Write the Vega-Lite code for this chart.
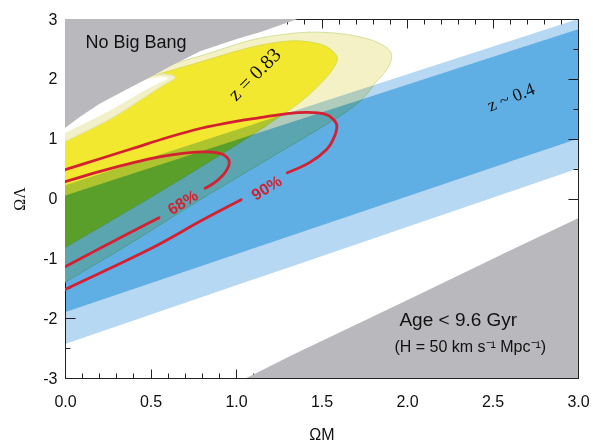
{
  "$schema": "https://vega.github.io/schema/vega-lite/v6.json",
  "autosize": {"type": "none"},
  "width": 513,
  "height": 359,
  "padding": {"left": 65, "top": 19, "right": 15, "bottom": 66},
  "background": "white",
  "config": {"view": {"stroke": "#222", "strokeWidth": 1}},
  "datasets": {
    "pale": [
      {"i": 1, "x": -0.3, "y": 0.9}, {"i": 2, "x": 0, "y": 1.45}, {"i": 3, "x": 0.3, "y": 1.9}, {"i": 4, "x": 0.5, "y": 2.14},
      {"i": 5, "x": 0.79, "y": 2.38}, {"i": 6, "x": 1.08, "y": 2.64}, {"i": 7, "x": 1.3, "y": 2.75}, {"i": 8, "x": 1.47, "y": 2.78},
      {"i": 9, "x": 1.65, "y": 2.74}, {"i": 10, "x": 1.8, "y": 2.64}, {"i": 11, "x": 1.89, "y": 2.5}, {"i": 12, "x": 1.91, "y": 2.35},
      {"i": 13, "x": 1.88, "y": 2.15}, {"i": 14, "x": 1.82, "y": 1.95}, {"i": 15, "x": 1.67, "y": 1.5}, {"i": 16, "x": 1.2, "y": 0.68},
      {"i": 17, "x": 0.79, "y": -0.02}, {"i": 18, "x": 0.4, "y": -0.72}, {"i": 19, "x": 0, "y": -1.4}, {"i": 20, "x": -0.3, "y": -1.92},
      {"i": 21, "x": -0.3, "y": 0.9}
    ],
    "bright": [
      {"i": 1, "x": -0.3, "y": 0.9}, {"i": 2, "x": 0, "y": 1.4}, {"i": 3, "x": 0.3, "y": 1.78}, {"i": 4, "x": 0.5, "y": 2.03},
      {"i": 5, "x": 0.79, "y": 2.28}, {"i": 6, "x": 1.0, "y": 2.46}, {"i": 7, "x": 1.14, "y": 2.56}, {"i": 8, "x": 1.3, "y": 2.63},
      {"i": 9, "x": 1.42, "y": 2.62}, {"i": 10, "x": 1.52, "y": 2.55}, {"i": 11, "x": 1.58, "y": 2.42}, {"i": 12, "x": 1.59, "y": 2.3},
      {"i": 13, "x": 1.55, "y": 2.1}, {"i": 14, "x": 1.47, "y": 1.85}, {"i": 15, "x": 1.37, "y": 1.6}, {"i": 16, "x": 1.25, "y": 1.36},
      {"i": 17, "x": 1.06, "y": 1.0}, {"i": 18, "x": 0.56, "y": 0.12}, {"i": 19, "x": 0, "y": -0.82}, {"i": 20, "x": -0.3, "y": -1.3},
      {"i": 21, "x": -0.3, "y": 0.9}
    ],
    "tongue": [
      {"i": 1, "x": -0.1, "y": 0.8}, {"i": 2, "x": 0, "y": 0.95}, {"i": 3, "x": 0.26, "y": 1.32}, {"i": 4, "x": 0.46, "y": 1.68},
      {"i": 5, "x": 0.58, "y": 1.9}, {"i": 6, "x": 0.64, "y": 2.0}, {"i": 7, "x": 0.63, "y": 2.06}, {"i": 8, "x": 0.56, "y": 2.08},
      {"i": 9, "x": 0.45, "y": 2.0}, {"i": 10, "x": 0.3, "y": 1.82}, {"i": 11, "x": 0, "y": 1.5}, {"i": 12, "x": -0.1, "y": 1.3}
    ],
    "pocket": [
      {"i": 1, "x": -0.1, "y": 0.95}, {"i": 2, "x": 0, "y": 1.1}, {"i": 3, "x": 0.26, "y": 1.47}, {"i": 4, "x": 0.46, "y": 1.8},
      {"i": 5, "x": 0.57, "y": 1.96}, {"i": 6, "x": 0.6, "y": 2.01}, {"i": 7, "x": 0.56, "y": 2.03}, {"i": 8, "x": 0.45, "y": 1.96},
      {"i": 9, "x": 0.3, "y": 1.78}, {"i": 10, "x": 0, "y": 1.45}, {"i": 11, "x": -0.1, "y": 1.3}
    ],
    "bands": [
      {"band": "lightU", "x": 0, "lo": 0.05, "hi": 0.22}, {"band": "lightU", "x": 3, "lo": 2.83, "hi": 3.0},
      {"band": "dark", "x": 0, "lo": -1.9, "hi": 0.05}, {"band": "dark", "x": 3, "lo": 1.0, "hi": 2.83},
      {"band": "lightL", "x": 0, "lo": -2.43, "hi": -1.9}, {"band": "lightL", "x": 3, "lo": 0.5, "hi": 1.0}
    ],
    "nbb": [
      {"x": 0, "y": 1.18}, {"x": 0.09, "y": 1.37}, {"x": 0.2, "y": 1.58}, {"x": 0.36, "y": 1.82}, {"x": 0.5, "y": 2.03},
      {"x": 0.61, "y": 2.2}, {"x": 0.79, "y": 2.46}, {"x": 1.0, "y": 2.66}, {"x": 1.14, "y": 2.78}, {"x": 1.36, "y": 3.0}
    ],
    "age": [
      {"x": 1.06, "y": -3}, {"x": 1.32, "y": -2.63}, {"x": 2.0, "y": -1.7}, {"x": 2.5, "y": -1.01}, {"x": 3.0, "y": -0.33}
    ],
    "red": [
      {"seg": "90a", "i": 1, "x": 0, "y": 0.48}, {"seg": "90a", "i": 2, "x": 0.2, "y": 0.66}, {"seg": "90a", "i": 3, "x": 0.4, "y": 0.84},
      {"seg": "90a", "i": 4, "x": 0.6, "y": 1.02}, {"seg": "90a", "i": 5, "x": 0.79, "y": 1.17}, {"seg": "90a", "i": 6, "x": 1.0, "y": 1.29},
      {"seg": "90a", "i": 7, "x": 1.14, "y": 1.35}, {"seg": "90a", "i": 8, "x": 1.3, "y": 1.42}, {"seg": "90a", "i": 9, "x": 1.42, "y": 1.44},
      {"seg": "90a", "i": 10, "x": 1.52, "y": 1.41}, {"seg": "90a", "i": 11, "x": 1.57, "y": 1.32}, {"seg": "90a", "i": 12, "x": 1.59, "y": 1.2},
      {"seg": "90a", "i": 13, "x": 1.57, "y": 1.0}, {"seg": "90a", "i": 14, "x": 1.53, "y": 0.82}, {"seg": "90a", "i": 15, "x": 1.43, "y": 0.6},
      {"seg": "90a", "i": 16, "x": 1.3, "y": 0.43},
      {"seg": "90b", "i": 1, "x": 1.03, "y": -0.02}, {"seg": "90b", "i": 2, "x": 0.79, "y": -0.38}, {"seg": "90b", "i": 3, "x": 0.5, "y": -0.84},
      {"seg": "90b", "i": 4, "x": 0, "y": -1.52},
      {"seg": "68a", "i": 1, "x": 0, "y": 0.28}, {"seg": "68a", "i": 2, "x": 0.2, "y": 0.45}, {"seg": "68a", "i": 3, "x": 0.4, "y": 0.6},
      {"seg": "68a", "i": 4, "x": 0.56, "y": 0.7}, {"seg": "68a", "i": 5, "x": 0.7, "y": 0.76}, {"seg": "68a", "i": 6, "x": 0.83, "y": 0.78},
      {"seg": "68a", "i": 7, "x": 0.92, "y": 0.74}, {"seg": "68a", "i": 8, "x": 0.96, "y": 0.62}, {"seg": "68a", "i": 9, "x": 0.94, "y": 0.45},
      {"seg": "68a", "i": 10, "x": 0.89, "y": 0.3}, {"seg": "68a", "i": 11, "x": 0.82, "y": 0.17},
      {"seg": "68b", "i": 1, "x": 0.55, "y": -0.32}, {"seg": "68b", "i": 2, "x": 0.2, "y": -0.84}, {"seg": "68b", "i": 3, "x": 0, "y": -1.14}
    ]
  },
  "encoding": {
    "x": {"field": "x", "type": "quantitative", "scale": {"domain": [0, 3], "nice": false, "zero": false}, "axis": null},
    "y": {"field": "y", "type": "quantitative", "scale": {"domain": [-3, 3], "nice": false, "zero": false}, "axis": null}
  },
  "layer": [
    {
      "data": {"name": "pale"},
      "mark": {"type": "line", "fill": "#f5f1c6", "stroke": "#d3e19a", "strokeWidth": 1, "clip": true, "interpolate": "cardinal"},
      "encoding": {
        "order": {"field": "i", "type": "quantitative"},
        "x": {"field": "x", "type": "quantitative", "scale": {"domain": [0, 3], "nice": false, "zero": false},
          "axis": {"orient": "bottom", "values": [0,0.1,0.2,0.3,0.4,0.5,0.6,0.7,0.8,0.9,1,1.1,1.2,1.3,1.4,1.5,1.6,1.7,1.8,1.9,2,2.1,2.2,2.3,2.4,2.5,2.6,2.7,2.8,2.9,3],
            "tickSize": {"condition": {"test": "abs(datum.value*2-round(datum.value*2))<0.001", "value": -9}, "value": -5},
            "labelExpr": "abs(datum.value*2-round(datum.value*2))<0.001 ? format(datum.value,'.1f') : ''",
            "labelOverlap": false, "labelFlush": false, "labelPadding": 24, "labelFont": "Liberation Sans", "labelFontSize": 16, "labelColor": "#111",
            "tickColor": "#222", "domainColor": "#222", "grid": false,
            "title": "ΩM", "titleFont": "Liberation Sans", "titleFontSize": 16, "titleFontWeight": "normal", "titleColor": "#111", "titlePadding": 13}},
        "y": {"field": "y", "type": "quantitative", "scale": {"domain": [-3, 3], "nice": false, "zero": false},
          "axis": {"orient": "left", "values": [-3,-2.5,-2,-1.5,-1,-0.5,0,0.5,1,1.5,2,2.5,3],
            "tickSize": {"condition": {"test": "abs(datum.value-round(datum.value))<0.001", "value": -10}, "value": -5},
            "labelExpr": "abs(datum.value-round(datum.value))<0.001 ? (datum.value<0 ? '-' + abs(datum.value) : '' + datum.value) : ''",
            "labelOverlap": false, "labelFlush": false, "labelPadding": 18, "labelFont": "Liberation Sans", "labelFontSize": 16, "labelColor": "#111",
            "tickColor": "#222", "domainColor": "#222", "grid": false,
            "title": "ΩΛ", "titleFont": "Liberation Serif", "titleFontSize": 16, "titleFontWeight": "normal", "titleColor": "#111", "titlePadding": 15}}
      }
    },
    {
      "data": {"name": "bright"},
      "mark": {"type": "line", "fill": "#f3e830", "stroke": "#d9dc50", "strokeWidth": 1, "clip": true, "interpolate": "cardinal"},
      "encoding": {"order": {"field": "i", "type": "quantitative"}}
    },
    {
      "data": {"name": "tongue"},
      "mark": {"type": "line", "fill": "#f2f0c8", "stroke": "#dfe2a0", "strokeWidth": 1, "clip": true, "interpolate": "cardinal"},
      "encoding": {"order": {"field": "i", "type": "quantitative"}}
    },
    {
      "data": {"name": "pocket"},
      "mark": {"type": "line", "fill": "#ffffff", "stroke": "#ffffff", "strokeWidth": 0.5, "clip": true, "interpolate": "cardinal"},
      "encoding": {"order": {"field": "i", "type": "quantitative"}}
    },
    {
      "data": {"name": "bands"},
      "mark": {"type": "area", "blend": "multiply"},
      "encoding": {
        "y": {"field": "lo", "type": "quantitative", "stack": null, "axis": null},
        "y2": {"field": "hi"},
        "color": {"field": "band", "type": "nominal", "scale": {"domain": ["lightU", "dark", "lightL"], "range": ["#b6d8f2", "#5fafe4", "#b6d8f2"]}, "legend": null}
      }
    },
    {
      "data": {"name": "nbb"},
      "mark": {"type": "area", "color": "#b9b9bd", "clip": true},
      "encoding": {"y2": {"datum": 3}}
    },
    {
      "data": {"name": "age"},
      "mark": {"type": "area", "color": "#b9b9bd", "clip": true},
      "encoding": {
        "y2": {"datum": -3},
        "x": {"field": "x", "type": "quantitative", "scale": {"domain": [0, 3], "nice": false, "zero": false},
          "axis": {"orient": "top", "values": [0,0.1,0.2,0.3,0.4,0.5,0.6,0.7,0.8,0.9,1,1.1,1.2,1.3,1.4,1.5,1.6,1.7,1.8,1.9,2,2.1,2.2,2.3,2.4,2.5,2.6,2.7,2.8,2.9,3],
            "tickSize": {"condition": {"test": "abs(datum.value*2-round(datum.value*2))<0.001", "value": -9}, "value": -5},
            "labels": false, "tickColor": "#222", "domainColor": "#222", "grid": false, "title": null}},
        "y": {"field": "y", "type": "quantitative", "scale": {"domain": [-3, 3], "nice": false, "zero": false},
          "axis": {"orient": "right", "values": [-3,-2.5,-2,-1.5,-1,-0.5,0,0.5,1,1.5,2,2.5,3],
            "tickSize": {"condition": {"test": "abs(datum.value-round(datum.value))<0.001", "value": -10}, "value": -5},
            "labels": false, "tickColor": "#222", "domainColor": "#222", "grid": false, "title": null}}
      }
    },
    {
      "data": {"name": "red"},
      "mark": {"type": "line", "color": "#d42030", "strokeWidth": 2.8, "strokeCap": "round", "interpolate": "cardinal", "clip": true},
      "encoding": {"detail": {"field": "seg", "type": "nominal"}, "order": {"field": "i", "type": "quantitative"}}
    },
    {
      "data": {"values": [{"x": 0.415, "y": 2.6, "t": "No Big Bang"}]},
      "mark": {"type": "text", "font": "Liberation Sans", "fontSize": 18, "color": "#111", "align": "center", "baseline": "middle"},
      "encoding": {"text": {"field": "t"}}
    },
    {
      "data": {"values": [{"x": 1.11, "y": 2.07, "t": "z = 0.83"}]},
      "mark": {"type": "text", "font": "Liberation Serif", "fontSize": 20, "color": "#111", "align": "center", "baseline": "middle", "angle": 315},
      "encoding": {"text": {"field": "t"}}
    },
    {
      "data": {"values": [{"x": 2.61, "y": 1.68, "t": "z ~ 0.4"}]},
      "mark": {"type": "text", "font": "Liberation Serif", "fontSize": 18, "color": "#111", "align": "center", "baseline": "middle", "angle": 338},
      "encoding": {"text": {"field": "t"}}
    },
    {
      "data": {"values": [{"x": 0.69, "y": -0.07, "t": "68%"}, {"x": 1.18, "y": 0.17, "t": "90%"}]},
      "mark": {"type": "text", "font": "Liberation Sans", "fontSize": 16, "fontWeight": "bold", "color": "#d42030", "align": "center", "baseline": "middle", "angle": 328},
      "encoding": {"text": {"field": "t"}}
    },
    {
      "data": {"values": [{"x": 2.3, "y": -2.03, "t": "Age < 9.6 Gyr"}]},
      "mark": {"type": "text", "font": "Liberation Sans", "fontSize": 19, "color": "#111", "align": "center", "baseline": "middle"},
      "encoding": {"text": {"field": "t"}}
    },
    {
      "data": {"values": [{"x": 2.37, "y": -2.48, "t": "(H = 50 km s⁻¹ Mpc⁻¹)"}]},
      "mark": {"type": "text", "font": "Liberation Sans", "fontSize": 16, "color": "#111", "align": "center", "baseline": "middle"},
      "encoding": {"text": {"field": "t"}}
    }
  ],
  "resolve": {"axis": {"x": "independent", "y": "independent"}}
}
